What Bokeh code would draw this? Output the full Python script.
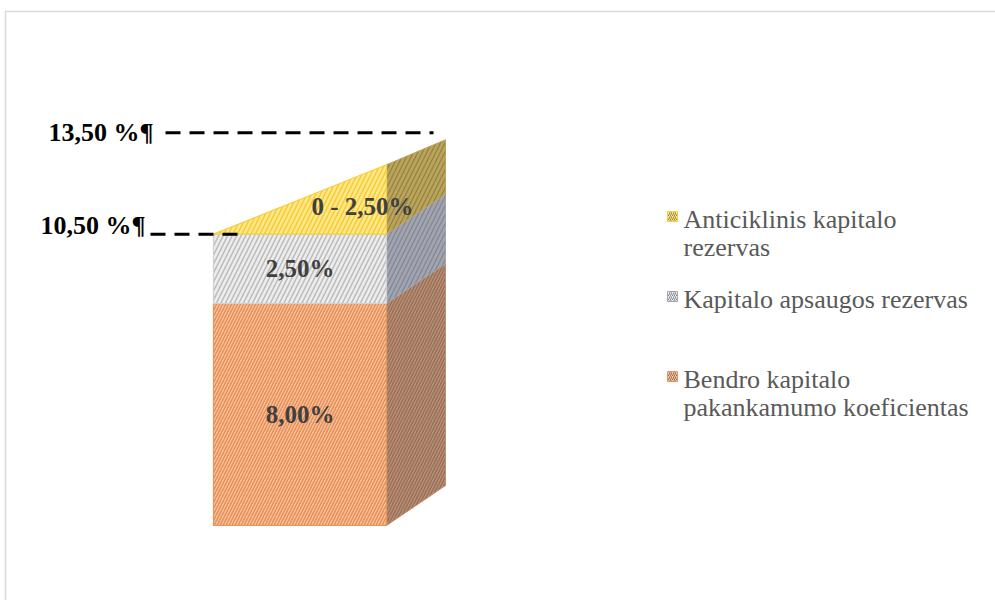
from bokeh.plotting import figure
from bokeh.models import Range1d
from bokeh.core.properties import value
from bokeh.embed import file_html
from bokeh.resources import INLINE

# ---------------- data ----------------
series_names = ["Bendro kapitalo pakankamumo koeficientas",
                "Kapitalo apsaugos rezervas",
                "Anticiklinis kapitalo rezervas"]
series_values = [8.0, 2.5, 2.5]
value_labels = ["8,00%", "2,50%", "0 - 2,50%"]
threshold_values = [10.5, 13.5]
threshold_labels = ["10,50 %¶", "13,50 %¶"]
legend_lines = [["Anticiklinis kapitalo", "rezervas"],
                ["Kapitalo apsaugos rezervas"],
                ["Bendro kapitalo", "pakankamumo koeficientas"]]

# ---------------- style ----------------
W, H = 995, 600
PPU = 27.75          # pixels per percent unit
BASE_PY = 525        # pixel row of the 0 % level
def Y(py):
    return (BASE_PY - py) / PPU

bar_l, bar_r = 213, 386
dx = 59              # depth offset (x units)
dy = 40 / PPU        # depth offset (y units)
dy_top = 25 / PPU    # depth offset of the wedge top

front_fill = ["#F7C6A4", "#EDEDED", "#FFE88C"]
front_hatch = ["#E98E55", "#BDBDBD", "#F5CC32"]
front_line = ["#E8955C", "#D0D0D0", "#F2CF4A"]
side_fill = ["#BE8E70", "#A2A5AE", "#BBA55C"]
side_hatch = ["#93705C", "#84879A", "#978443"]
hscale = [6, 9, 9]
serif = value("Liberation Serif")

p = figure(width=W, height=H, output_backend="svg", toolbar_location=None,
           x_range=Range1d(0, W), y_range=Range1d(Y(H), Y(0)),
           min_border=0, background_fill_color="white", border_fill_color="white")
p.axis.visible = False
p.grid.visible = False
p.outline_line_color = None

# outer chart border (top & left visible)
p.line(x=[5, 5, W + 10], y=[Y(H + 10), Y(11), Y(11)], line_color="#D9D9D9", line_width=1.5)

# ---------------- stacked 3-D bar ----------------
bottom = 0.0
tops = []
for i, v in enumerate(series_values):
    top = bottom + v
    tops.append(top)
    if i < 2:
        fx = [bar_l, bar_r, bar_r, bar_l]
        fy = [bottom, bottom, top, top]
        sx = [bar_r, bar_r + dx, bar_r + dx, bar_r]
        sy = [bottom, bottom + dy, top + dy, top]
    else:
        # wedge: triangle front face (0 .. max)
        fx = [bar_l, bar_r, bar_r]
        fy = [bottom, bottom, top]
        sx = [bar_r, bar_r + dx, bar_r + dx, bar_r]
        sy = [bottom, bottom + dy, top + dy_top, top]
    p.patch(x=sx, y=sy, fill_color=side_fill[i], line_color=side_fill[i], line_width=1,
            hatch_pattern="/", hatch_color=side_hatch[i], hatch_scale=hscale[i], hatch_weight=1.4)
    p.patch(x=fx, y=fy, fill_color=front_fill[i], line_color=front_line[i], line_width=1.2,
            hatch_pattern="/", hatch_color=front_hatch[i], hatch_scale=hscale[i], hatch_weight=1.6)
    bottom = top

# value labels
lab_x = [(bar_l + bar_r) / 2, (bar_l + bar_r) / 2, 362]
lab_y = []
b = 0.0
for i, v in enumerate(series_values):
    lab_y.append(b + v * (0.5 if i < 2 else 0.4))
    b += v
p.text(x=lab_x, y=lab_y, text=value_labels, text_font=serif, text_font_style="bold",
       text_font_size="25px", text_color="#404040", text_align="center", text_baseline="middle")

# ---------------- threshold dashed lines ----------------
back_top = tops[-1] + dy_top
line_levels = [threshold_values[0], back_top + 0.25]
line_x0 = [150, 165]
line_x1 = [242, 433]
for lvl, x0, x1 in zip(line_levels, line_x0, line_x1):
    p.line(x=[x0, x1], y=[lvl, lvl], line_color="black", line_width=3, line_dash="15 9")
p.text(x=[145, 153], y=[line_levels[0] + 0.3, line_levels[1]], text=threshold_labels,
       text_font=serif, text_font_style="bold", text_font_size="26px",
       text_color="black", text_align="right", text_baseline="middle")

# ---------------- legend ----------------
legend_order = [2, 1, 0]           # top to bottom
sq_py = [216, 296, 376]
line_gap = 28
for k, si in enumerate(legend_order):
    cy = Y(sq_py[k])
    p.rect(x=[672], y=[cy], width=10, height=10 / PPU, fill_color=front_fill[si],
           line_color=front_line[si] if si != 1 else "#A6A6A6", line_width=1,
           hatch_pattern="/", hatch_color=side_hatch[si], hatch_scale=4, hatch_weight=1)
    ys = [Y(sq_py[k] + 3 + j * line_gap) for j in range(len(legend_lines[k]))]
    p.text(x=[683] * len(ys), y=ys, text=legend_lines[k], text_font=serif,
           text_font_size="26px", text_color="#595959", text_align="left", text_baseline="middle")

open("out.html", "w").write(file_html(p, INLINE))
